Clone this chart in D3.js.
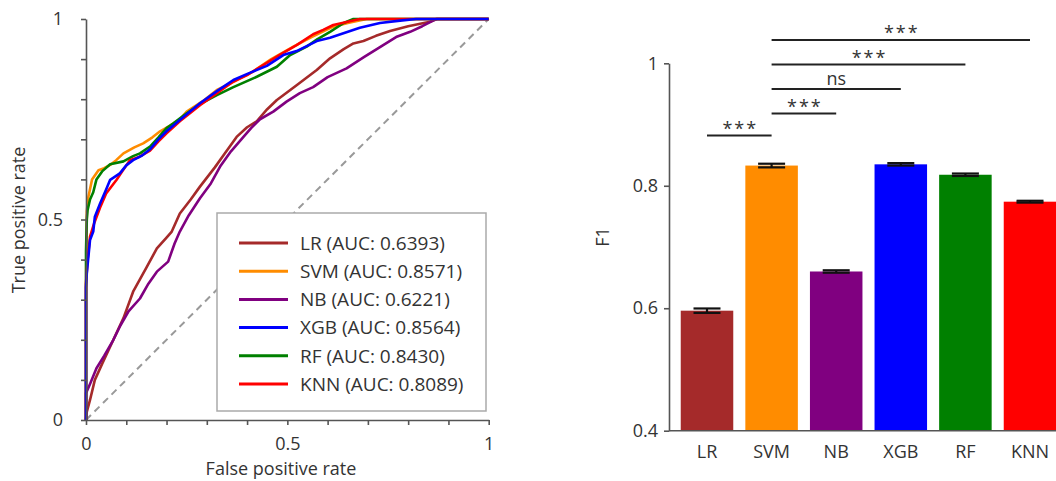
<!DOCTYPE html>
<html>
<head>
<meta charset="utf-8">
<script src="https://cdn.jsdelivr.net/npm/d3@7"></script>
<style>
  html, body { margin: 0; padding: 0; background: #fff; }
  svg { display: block; font-family: "Open Sans", "Noto Sans", sans-serif; }
  .axis path, .axis line { stroke: #555; stroke-width: 1.6; }
  .axis text { fill: #333; font-size: 18px; font-family: "Open Sans", "Noto Sans", sans-serif; }
</style>
</head>
<body>
<svg id="chart" width="1056" height="481"></svg>
<script>
// Model names and colours shared by both panels
const models = ["LR", "SVM", "NB", "XGB", "RF", "KNN"];
const modelColors = ["#a52a2a", "#ff8c00", "#800080", "#0000ff", "#008000", "#ff0000"];
const aucValues = ["0.6393", "0.8571", "0.6221", "0.8564", "0.8430", "0.8089"];

// ROC curves: [false positive rate, true positive rate]
const rocLR = [[0,0],[0.002,0.02],[0.01,0.05],[0.022,0.10],[0.04,0.14],[0.068,0.20],[0.093,0.254],[0.117,0.32],[0.15,0.38],[0.176,0.428],[0.2,0.455],[0.213,0.47],[0.233,0.515],[0.26,0.55],[0.283,0.582],[0.32,0.63],[0.345,0.665],[0.374,0.706],[0.4,0.73],[0.424,0.745],[0.45,0.775],[0.474,0.798],[0.523,0.835],[0.573,0.873],[0.606,0.902],[0.64,0.925],[0.664,0.939],[0.689,0.945],[0.72,0.958],[0.755,0.97],[0.8,0.982],[0.854,0.993],[0.87,1],[1,1]];
const rocSVM = [[0,0],[0,0.3],[0.002,0.52],[0.006,0.557],[0.015,0.6],[0.031,0.623],[0.045,0.628],[0.06,0.636],[0.075,0.648],[0.093,0.665],[0.12,0.68],[0.142,0.69],[0.165,0.705],[0.184,0.72],[0.21,0.735],[0.233,0.75],[0.25,0.769],[0.29,0.795],[0.325,0.823],[0.37,0.845],[0.415,0.869],[0.46,0.9],[0.515,0.931],[0.56,0.955],[0.614,0.981],[0.65,0.99],[0.697,1],[1,1]];
const rocNB = [[0,0],[0,0.067],[0.01,0.09],[0.026,0.129],[0.045,0.16],[0.068,0.2],[0.085,0.235],[0.105,0.27],[0.134,0.303],[0.155,0.34],[0.176,0.37],[0.204,0.395],[0.22,0.44],[0.233,0.47],[0.255,0.51],[0.283,0.553],[0.31,0.59],[0.333,0.632],[0.36,0.67],[0.391,0.706],[0.41,0.728],[0.432,0.75],[0.465,0.769],[0.498,0.794],[0.531,0.815],[0.564,0.83],[0.6,0.855],[0.647,0.877],[0.69,0.905],[0.738,0.935],[0.77,0.955],[0.805,0.968],[0.835,0.982],[0.862,0.996],[0.872,1],[1,1]];
const rocXGB = [[0,0],[0,0.33],[0.002,0.366],[0.01,0.449],[0.018,0.47],[0.022,0.507],[0.035,0.54],[0.05,0.575],[0.06,0.599],[0.084,0.615],[0.1,0.635],[0.117,0.648],[0.14,0.66],[0.159,0.675],[0.18,0.7],[0.2,0.72],[0.233,0.748],[0.283,0.79],[0.325,0.82],[0.366,0.848],[0.405,0.865],[0.449,0.883],[0.49,0.91],[0.523,0.92],[0.573,0.945],[0.606,0.953],[0.68,0.978],[0.73,0.99],[0.78,0.996],[0.82,1],[1,1]];
const rocRF = [[0,0],[0,0.42],[0.002,0.5],[0.004,0.524],[0.01,0.55],[0.018,0.568],[0.026,0.6],[0.04,0.62],[0.06,0.638],[0.093,0.645],[0.117,0.658],[0.134,0.665],[0.159,0.682],[0.18,0.705],[0.2,0.728],[0.217,0.74],[0.25,0.765],[0.283,0.788],[0.325,0.81],[0.366,0.83],[0.424,0.856],[0.474,0.881],[0.507,0.91],[0.548,0.931],[0.575,0.95],[0.606,0.968],[0.64,0.99],[0.664,1],[1,1]];
const rocKNN = [[0,0],[0,0.34],[0.004,0.4],[0.01,0.457],[0.02,0.49],[0.035,0.53],[0.05,0.565],[0.076,0.599],[0.09,0.62],[0.109,0.648],[0.13,0.655],[0.159,0.672],[0.18,0.695],[0.2,0.715],[0.233,0.745],[0.283,0.785],[0.325,0.815],[0.366,0.844],[0.4,0.86],[0.44,0.885],[0.48,0.91],[0.523,0.935],[0.564,0.962],[0.589,0.973],[0.614,0.985],[0.65,0.993],[0.68,1],[1,1]];

// F1 scores (mean and error) per model
const f1Mean = [0.596, 0.833, 0.660, 0.835, 0.818, 0.774];
const f1Err = [0.0036, 0.003, 0.002, 0.002, 0.002, 0.0015];

// Significance brackets from SVM to each other model
const sigFrom = ["LR", "SVM", "SVM", "SVM", "SVM"];
const sigTo = ["SVM", "NB", "XGB", "RF", "KNN"];
const sigLevel = [0.882, 0.918, 0.958, 0.998, 1.038];
const sigLabel = ["***", "***", "ns", "***", "***"];

// Axis tick values
const rocTicks = d3.range(0, 11).map(i => i / 10);
const rocTickLabels = { 0: "0", 5: "0.5", 10: "1" };
const f1Ticks = [0.4, 0.6, 0.8, 1];

const svg = d3.select("#chart");

// ---------- ROC panel ----------
const x = d3.scaleLinear().domain([0, 1]).range([86, 488.7]);
const y = d3.scaleLinear().domain([0, 1]).range([420, 19]);
const roc = svg.append("g");

// chance diagonal
roc.append("line")
  .attr("x1", x(0)).attr("y1", y(0)).attr("x2", x(1)).attr("y2", y(1))
  .attr("stroke", "#999").attr("stroke-width", 2).attr("stroke-dasharray", "7,5");

const curves = [rocLR, rocSVM, rocNB, rocXGB, rocRF, rocKNN];
const drawOrder = [0, 2, 1, 4, 5, 3];
const line = d3.line().x(d => x(d[0])).y(d => y(d[1]));
drawOrder.forEach(i => {
  roc.append("path")
    .datum(curves[i])
    .attr("d", line)
    .attr("fill", "none")
    .attr("stroke", modelColors[i])
    .attr("stroke-width", 2.6)
    .attr("stroke-linejoin", "round");
});

const fmtRoc = d => rocTickLabels[Math.round(d * 10)] || "";
roc.append("g").attr("class", "axis")
  .attr("transform", `translate(0,${y(0)})`)
  .call(d3.axisBottom(x).tickValues(rocTicks).tickFormat(fmtRoc).tickSize(5).tickPadding(12).tickSizeOuter(0));
roc.append("g").attr("class", "axis")
  .attr("transform", `translate(${x(0)},0)`)
  .call(d3.axisLeft(y).tickValues(rocTicks).tickFormat(fmtRoc).tickSize(5).tickPadding(18).tickSizeOuter(0));

roc.append("text")
  .attr("x", 281).attr("y", 475)
  .attr("text-anchor", "middle").attr("font-size", 18).attr("fill", "#333")
  .text("False positive rate");
roc.append("text")
  .attr("transform", "translate(25,220) rotate(-90)")
  .attr("text-anchor", "middle").attr("font-size", 18).attr("fill", "#333")
  .text("True positive rate");

// legend
const legend = roc.append("g");
legend.append("rect")
  .attr("x", 217).attr("y", 213).attr("width", 269).attr("height", 198)
  .attr("fill", "#fff").attr("stroke", "#aaa").attr("stroke-width", 1.5);
models.forEach((m, i) => {
  const cy = 243 + i * 28.2;
  legend.append("line")
    .attr("x1", 239).attr("x2", 288).attr("y1", cy).attr("y2", cy)
    .attr("stroke", modelColors[i]).attr("stroke-width", 3);
  legend.append("text")
    .attr("x", 300).attr("y", cy + 6.8)
    .attr("font-size", 19).attr("fill", "#333")
    .text(`${m} (AUC: ${aucValues[i]})`);
});

// ---------- F1 bar panel ----------
const xb = d3.scaleBand().domain(models).range([674.7, 1062.3]).paddingInner(0.187).paddingOuter(0.0935);
const yb = d3.scaleLinear().domain([0.4, 1]).range([430.7, 63.3]);
const bars = svg.append("g");

bars.selectAll("rect.bar")
  .data(models)
  .join("rect")
  .attr("class", "bar")
  .attr("x", d => xb(d))
  .attr("width", xb.bandwidth())
  .attr("y", (d, i) => yb(f1Mean[i]))
  .attr("height", (d, i) => yb(0.4) - yb(f1Mean[i]))
  .attr("fill", (d, i) => modelColors[i]);

// error bars
models.forEach((m, i) => {
  const cx = xb(m) + xb.bandwidth() / 2;
  const hi = yb(f1Mean[i] + f1Err[i]);
  const lo = yb(f1Mean[i] - f1Err[i]);
  const g = bars.append("g").attr("stroke", "#111").attr("stroke-width", 2.2);
  g.append("line").attr("x1", cx).attr("x2", cx).attr("y1", hi).attr("y2", lo);
  g.append("line").attr("x1", cx - 13.5).attr("x2", cx + 13.5).attr("y1", hi).attr("y2", hi);
  g.append("line").attr("x1", cx - 13.5).attr("x2", cx + 13.5).attr("y1", lo).attr("y2", lo);
});

bars.append("g").attr("class", "axis")
  .attr("transform", `translate(669,0)`)
  .call(d3.axisLeft(yb).tickValues(f1Ticks).tickFormat(d3.format("~g")).tickSize(5).tickPadding(6).tickSizeOuter(0));
bars.append("line")
  .attr("x1", 669).attr("x2", 1056).attr("y1", yb(0.4)).attr("y2", yb(0.4))
  .attr("stroke", "#555").attr("stroke-width", 1.6);
bars.selectAll("text.cat")
  .data(models)
  .join("text")
  .attr("class", "cat")
  .attr("x", d => xb(d) + xb.bandwidth() / 2)
  .attr("y", 458)
  .attr("text-anchor", "middle").attr("font-size", 18).attr("fill", "#333")
  .text(d => d);
bars.append("text")
  .attr("transform", "translate(609,237) rotate(-90)")
  .attr("text-anchor", "middle").attr("font-size", 18).attr("fill", "#333")
  .text("F1");

// significance brackets
sigFrom.forEach((f, i) => {
  const x1 = xb(f) + xb.bandwidth() / 2;
  const x2 = xb(sigTo[i]) + xb.bandwidth() / 2;
  const ly = yb(sigLevel[i]);
  bars.append("line")
    .attr("x1", x1).attr("x2", x2).attr("y1", ly).attr("y2", ly)
    .attr("stroke", "#222").attr("stroke-width", 2);
  const isStars = sigLabel[i] === "***";
  bars.append("text")
    .attr("x", (x1 + x2) / 2 + (isStars ? 1 : 0))
    .attr("y", isStars ? ly - 1 : ly - 4)
    .attr("text-anchor", "middle")
    .attr("font-size", 18).attr("fill", "#333")
    .attr("letter-spacing", isStars ? 2 : 0)
    .text(sigLabel[i]);
});
</script>
</body>
</html>
